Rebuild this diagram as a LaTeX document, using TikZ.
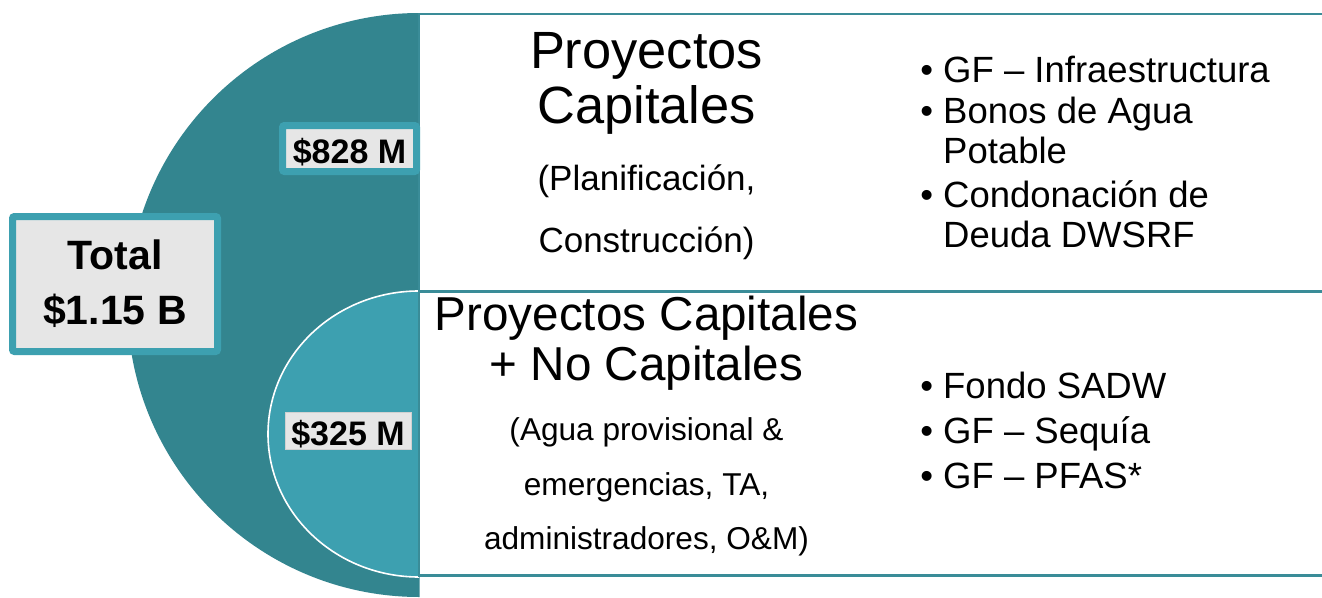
\documentclass[tikz,border=0pt]{standalone}
\usepackage{fontspec}
\setmainfont{Liberation Sans}
\definecolor{darkteal}{HTML}{33858F}
\definecolor{lightteal}{HTML}{3DA0B0}
\definecolor{lineteal}{HTML}{3A8C98}
\definecolor{boxgray}{HTML}{E6E6E6}
\begin{document}
\begin{tikzpicture}[x=1pt,y=-1pt,
  panel/.style={draw=lineteal, line width=2.5pt, fill=white},
  valbox/.style={fill=boxgray, draw=lightteal, line width=7pt, rounded corners=2pt, inner sep=0pt},
  ttl/.style={anchor=base, inner sep=0pt},
  bul/.style={anchor=base west, inner sep=0pt, font=\fontsize{36.5}{40}\selectfont},
  dot/.style={}]
\useasboundingbox (0,0) rectangle (1322,597);
\clip (0,0) rectangle (1322,597);
\fill[white] (0,0) rectangle (1322,597);
% big half disc
\begin{scope}
  \clip (0,0) rectangle (419.5,597);
  \fill[darkteal] (419.5,305) circle[radius=292];
\end{scope}
% small half disc
\begin{scope}
  \clip (0,0) rectangle (419,597);
  \filldraw[fill=lightteal, draw=white, line width=1.6pt] (419,434) ellipse[x radius=151, y radius=143];
\end{scope}
% panels
\draw[panel] (419,14) rectangle (1330,291.5);
\draw[panel] (419,291.5) rectangle (1330,575.5);
% value boxes
\node[valbox, minimum width=205pt, minimum height=135pt, align=center,
      font=\fontsize{41}{55}\selectfont\bfseries] (total) at (115,284) {Total\\\$1.15 B};
\node[valbox, minimum width=134pt, minimum height=46pt, text height=29pt, text depth=0pt,
      font=\fontsize{34}{40}\selectfont\bfseries] (v828) at (349.5,148.5) {\$828 M};
\node[fill=boxgray, draw=black!18, line width=0.6pt, inner sep=0pt, minimum width=126pt,
      minimum height=37pt, text height=29pt, text depth=0pt,
      font=\fontsize{34}{40}\selectfont\bfseries] (v325) at (348,430.5) {\$325 M};
% top titles
\node[ttl, font=\fontsize{52.4}{60}\selectfont] (t1) at (646.5,68) {Proyectos};
\node[ttl, font=\fontsize{52.4}{60}\selectfont] (t2) at (646.5,123) {Capitales};
\node[ttl, font=\fontsize{35}{40}\selectfont] (s1) at (646.5,190) {(Planificación,};
\node[ttl, font=\fontsize{35}{40}\selectfont] (s2) at (646.5,252) {Construcción)};
% bottom titles
\node[ttl, font=\fontsize{47.6}{55}\selectfont] (b1) at (646.5,330) {Proyectos Capitales};
\node[ttl, font=\fontsize{47.6}{55}\selectfont] (b2) at (646.5,380) {+ No Capitales};
\node[ttl, font=\fontsize{31.6}{36}\selectfont] (u1) at (646.5,440) {(Agua provisional \&};
\node[ttl, font=\fontsize{31.6}{36}\selectfont] (u2) at (646.5,495) {emergencias, TA,};
\node[ttl, font=\fontsize{31.6}{36}\selectfont] (u3) at (646.5,549) {administradores, O\&M)};
% bullets top
\node[bul] (l1) at (943,82) {\makebox[0pt][r]{•\hspace{10pt}}GF – Infraestructura};
\node[bul] (l2) at (943,123) {\makebox[0pt][r]{•\hspace{10pt}}Bonos de Agua};
\node[bul] (l3) at (943,163) {Potable};
\node[bul] (l4) at (943,207) {\makebox[0pt][r]{•\hspace{10pt}}Condonación de};
\node[bul] (l5) at (943,247) {Deuda DWSRF};
% bullets bottom
\node[bul] (m1) at (943,398) {\makebox[0pt][r]{•\hspace{10pt}}Fondo SADW};
\node[bul] (m2) at (943,443) {\makebox[0pt][r]{•\hspace{10pt}}GF – Sequía};
\node[bul] (m3) at (943,488) {\makebox[0pt][r]{•\hspace{10pt}}GF – PFAS*};
\end{tikzpicture}
\end{document}
